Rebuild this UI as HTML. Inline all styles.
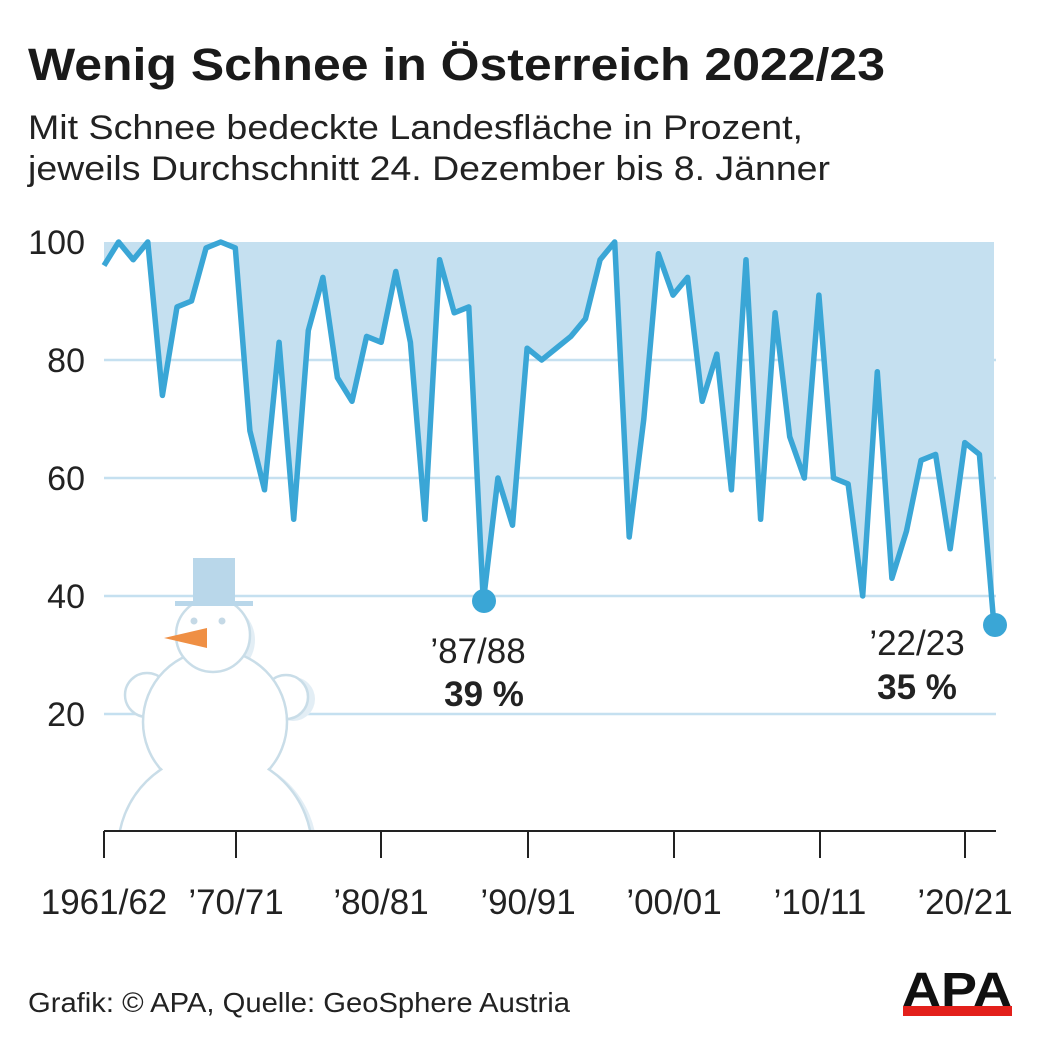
<!DOCTYPE html>
<html><head><meta charset="utf-8"><style>
body{margin:0;background:#fff;}
svg text{font-family:"Liberation Sans",Arial,sans-serif;}
</style></head><body>
<svg width="1041" height="1040" viewBox="0 0 1041 1040" xmlns="http://www.w3.org/2000/svg">
<defs><clipPath id="cp"><rect x="0" y="0" width="1041" height="830"/></clipPath></defs>
<rect width="1041" height="1040" fill="#fff"/>
<text x="28" y="80" font-size="45" font-weight="bold" fill="#1a1a1a" textLength="857" lengthAdjust="spacingAndGlyphs">Wenig Schnee in Österreich 2022/23</text>
<text x="28" y="139" font-size="34" fill="#222" textLength="775" lengthAdjust="spacingAndGlyphs">Mit Schnee bedeckte Landesfläche in Prozent,</text>
<text x="28" y="180" font-size="34" fill="#222" textLength="802" lengthAdjust="spacingAndGlyphs">jeweils Durchschnitt 24. Dezember bis 8. Jänner</text>
<g id="chart"></g>
<g font-size="34" fill="#222" text-anchor="end">
<text x="85" y="254">100</text><text x="85" y="372">80</text><text x="85" y="490">60</text><text x="85" y="608">40</text><text x="85" y="726">20</text>
</g>
<g font-size="35" fill="#222" text-anchor="middle">
<text x="104" y="914">1961/62</text><text x="236" y="914">’70/71</text><text x="381" y="914">’80/81</text><text x="528" y="914">’90/91</text><text x="674" y="914">’00/01</text><text x="820" y="914">’10/11</text><text x="965" y="914">’20/21</text>
<text x="478" y="663">’87/88</text><text x="484" y="706" font-weight="bold">39 %</text>
<text x="917" y="655">’22/23</text><text x="917" y="699" font-weight="bold">35 %</text>
</g>
<text x="28" y="1012" font-size="28" fill="#222" textLength="542" lengthAdjust="spacingAndGlyphs">Grafik: © APA, Quelle: GeoSphere Austria</text>
<text x="902" y="1006" font-size="48" font-weight="bold" fill="#111" textLength="110" lengthAdjust="spacingAndGlyphs">APA</text>
<rect x="903" y="1006" width="109" height="10" fill="#e3201b"/>
</svg>
<script>
var d=[96,100,97,100,74,89,90,99,100,99,68,58,83,53,85,94,77,73,84,83,95,83,53,97,88,89,39,60,52,82,80,82,84,87,97,100,50,70,98,91,94,73,81,58,97,53,88,67,60,91,60,59,40,78,43,51,63,64,48,66,64,35];
function X(i){return 104+i*(890/61);}function Y(v){return 832-v*5.9;}
var pts=d.map(function(v,i){return X(i).toFixed(1)+","+Y(v).toFixed(1)}).join(" ");
var s='<polygon points="104,242 '+pts+' 994,242" fill="#c5e0f0"/>';
[80,60,40,20].forEach(function(v){s+='<line x1="104" x2="996" y1="'+Y(v)+'" y2="'+Y(v)+'" stroke="#c5e0f0" stroke-width="2.5"/>';});
var st='stroke="#c9dde8" stroke-width="2.5" fill="#fff"';
s+='<g clip-path="url(#cp)">';
s+='<circle cx="220" cy="852" r="97" fill="#e3eef5"/><circle cx="293" cy="699" r="22" fill="#e3eef5"/><circle cx="218" cy="640" r="37" fill="#e3eef5"/>';
s+='<circle cx="147" cy="695" r="22" '+st+'/><circle cx="286" cy="697" r="22" '+st+'/><circle cx="215" cy="722" r="72" '+st+'/><circle cx="215" cy="850" r="97" '+st+'/><circle cx="215" cy="722" r="70.5" fill="#fff"/><circle cx="213" cy="635" r="37" '+st+'/>';
s+='</g>';
s+='<rect x="175" y="601" width="78" height="5" fill="#b9d7ea"/><rect x="193" y="558" width="42" height="46" fill="#b9d7ea"/>';
s+='<circle cx="194" cy="621" r="3.5" fill="#c5d9e6"/><circle cx="222" cy="621" r="3.5" fill="#c5d9e6"/><polygon points="164,638 207,628 207,648" fill="#ef8f44"/>';
s+='<line x1="104" x2="996" y1="831" y2="831" stroke="#222" stroke-width="2"/>';
[104,236,381,528,674,820,965].forEach(function(x){s+='<line x1="'+x+'" x2="'+x+'" y1="831" y2="858" stroke="#222" stroke-width="2"/>';});
s+='<polyline points="'+pts+'" fill="none" stroke="#3aa6d6" stroke-width="5.5" stroke-linejoin="round"/>';
s+='<circle cx="484" cy="601" r="12" fill="#3aa6d6"/><circle cx="995" cy="625" r="12" fill="#3aa6d6"/>';
document.getElementById("chart").innerHTML=s;
</script>
</body></html>
